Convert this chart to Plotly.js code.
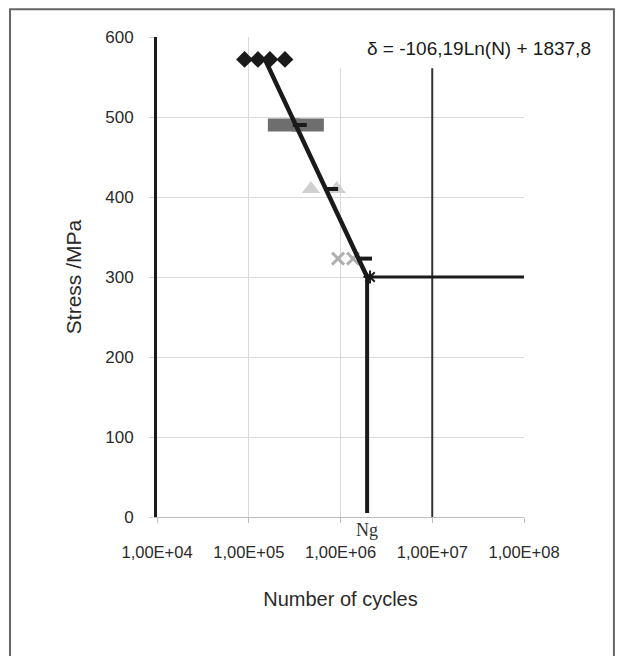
<!DOCTYPE html>
<html>
<head>
<meta charset="utf-8">
<script src="https://cdn.plot.ly/plotly-3.0.1.min.js"></script>
<style>html,body{margin:0;padding:0;background:#fff;}#chart{width:624px;height:656px;}</style>
</head>
<body>
<div id="chart"></div>
<script>
// ---- data ----
const diamondN = [9.0e4, 1.26e5, 1.70e5, 2.48e5];
const diamondS = [572, 572, 572, 572];
const grayDashN = [2.42e5, 4.4e5];
const grayDashS = [490, 490];
const triangleN = [4.76e5, 9.1e5];
const triangleS = [410, 410];
const crossN = [9.4e5, 1.37e6];
const crossS = [323, 323];
const blackDashN = [3.6e5, 7.9e5, 1.85e6];
const blackDashS = [490, 410, 323];
const starN = [2.1e6];
const starS = [300];
const fitN = [1.5e5, 1.95e6];
const fitS = [572, 300];
const ngLineN = [1.95e6, 1.95e6];
const ngLineS = [5, 300];
const endurN = [1.95e6, 1e8];
const endurS = [300, 300];
const decadeLineN = [1e7, 1e7];
const decadeLineS = [0, 600];
const xTickVals = [1e4, 1e5, 1e6, 1e7, 1e8];
const xTickText = ['1,00E+04', '1,00E+05', '1,00E+06', '1,00E+07', '1,00E+08'];
const yTickVals = [0, 100, 200, 300, 400, 500, 600];
const equationText = 'δ = -106,19Ln(N) + 1837,8';
const ngText = 'Ng';
const ngN = 1.95e6;

const dark = '#1a1a1a';
const traces = [
  {x: decadeLineN, y: decadeLineS, mode: 'lines', line: {color: '#333', width: 2}, hoverinfo: 'skip'},
  {x: grayDashN, y: grayDashS, mode: 'markers',
   marker: {symbol: 'line-ew', size: 23, color: '#6e6e6e', line: {color: '#6e6e6e', width: 13}}},
  {x: triangleN, y: triangleS, mode: 'markers',
   marker: {symbol: 'triangle-up', size: 16, color: '#d0d0d0'}},
  {x: crossN, y: crossS, mode: 'markers',
   marker: {symbol: 'x-thin', size: 12, color: '#b0b0b0', line: {color: '#b0b0b0', width: 3}}},
  {x: diamondN, y: diamondS, mode: 'markers',
   marker: {symbol: 'diamond', size: 13, color: dark}},
  {x: fitN, y: fitS, mode: 'lines', line: {color: dark, width: 4.5}},
  {x: ngLineN, y: ngLineS, mode: 'lines', line: {color: dark, width: 4}},
  {x: endurN, y: endurS, mode: 'lines', line: {color: dark, width: 3}},
  {x: blackDashN, y: blackDashS, mode: 'markers',
   marker: {symbol: 'line-ew', size: 10, color: dark, line: {color: dark, width: 4}}},
  {x: starN, y: starS, mode: 'markers',
   marker: {symbol: 'asterisk', size: 11, color: dark, line: {color: dark, width: 2}}}
];

const layout = {
  width: 624, height: 656,
  margin: {l: 157, r: 100, t: 37, b: 139},
  paper_bgcolor: '#ffffff', plot_bgcolor: '#ffffff',
  showlegend: false,
  font: {family: '"Liberation Sans", Arial, sans-serif', color: '#2a2a2a', size: 17},
  xaxis: {
    type: 'log', range: [4, 8],
    tickvals: xTickVals, ticktext: xTickText,
    tickfont: {size: 16.5},
    showgrid: true, gridcolor: '#d9d9d9', gridwidth: 1,
    showline: true, linecolor: '#bdbdbd', linewidth: 1,
    ticks: 'outside', ticklen: 5, tickcolor: '#bdbdbd',
    ticklabelstandoff: 15,
    zeroline: false,
    title: {text: 'Number of cycles', font: {size: 20, color: '#2a2a2a'}, standoff: 32}
  },
  yaxis: {
    range: [0, 600], tickvals: yTickVals,
    tickfont: {size: 17},
    showgrid: true, gridcolor: '#d9d9d9', gridwidth: 1,
    showline: true, linecolor: dark, linewidth: 3,
    ticks: 'outside', ticklen: 5, tickcolor: '#d0d0d0',
    ticklabelstandoff: 12,
    zeroline: false,
    title: {text: 'Stress /MPa', font: {size: 21, color: '#2a2a2a'}, standoff: 18}
  },
  shapes: [
    {type: 'rect', xref: 'paper', yref: 'paper', x0: 0.496, x1: 1.22, y0: 0.935, y1: 1.03,
     fillcolor: '#ffffff', line: {width: 0}, layer: 'above'},
    {type: 'rect', xref: 'paper', yref: 'paper', x0: -0.4005, x1: 1.245, y0: -0.31, y1: 1.058,
     fillcolor: 'rgba(0,0,0,0)', line: {color: '#666', width: 2}, layer: 'above'}
  ],
  annotations: [
    {text: equationText, xref: 'paper', yref: 'paper', x: 0.877, y: 0.977,
     xanchor: 'center', yanchor: 'middle', showarrow: false,
     font: {size: 19, color: '#1a1a1a'}},
    {text: ngText, xref: 'x', yref: 'paper', x: Math.log10(ngN), y: -0.027,
     xanchor: 'center', yanchor: 'middle', showarrow: false,
     font: {family: '"Liberation Serif", "Times New Roman", serif', size: 18, color: '#333'}}
  ]
};

Plotly.newPlot('chart', traces, layout, {displayModeBar: false, staticPlot: true});
</script>
</body>
</html>
